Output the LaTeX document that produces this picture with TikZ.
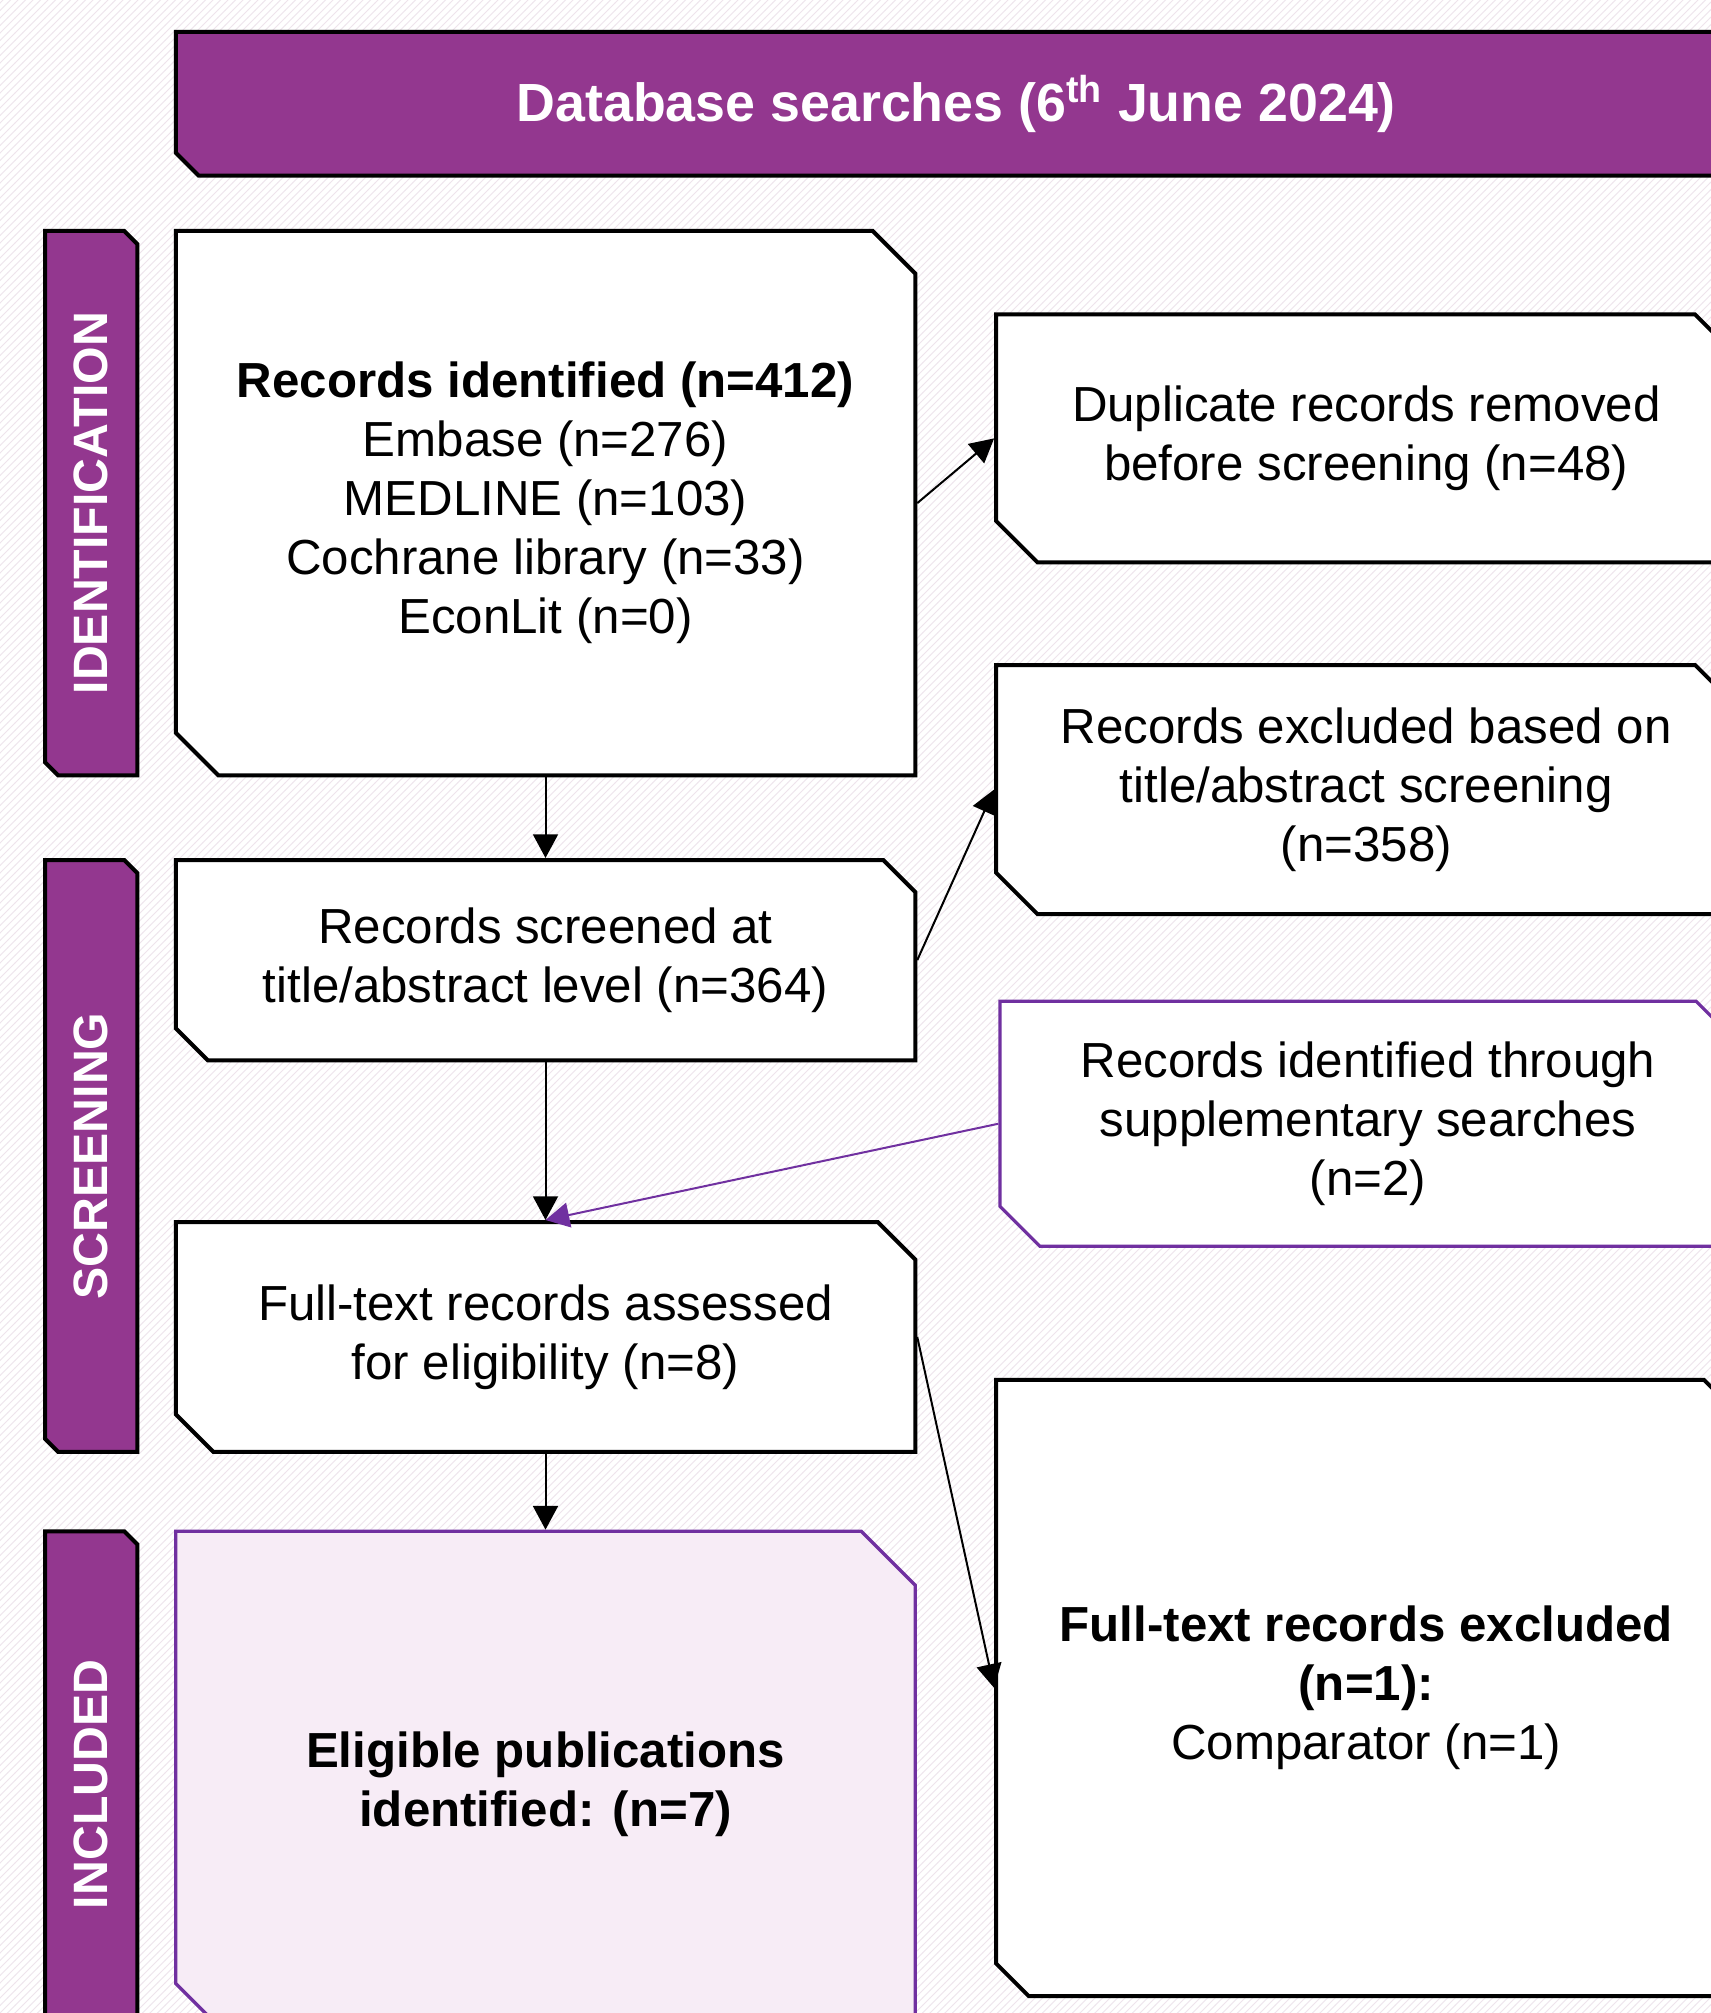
\documentclass[tikz,border=0pt]{standalone}
\usepackage{fontspec}
\setmainfont{Liberation Sans}
\usetikzlibrary{shapes.misc,arrows.meta,patterns}
\definecolor{barpurple}{RGB}{147,55,143}
\definecolor{edgepurple}{RGB}{112,48,160}
\definecolor{eligfill}{RGB}{247,236,246}
\definecolor{hatch}{RGB}{238,228,236}
\tikzset{every picture/.style={line width=0.6pt}}
\tikzset{
  bar/.style={chamfered rectangle, chamfered rectangle corners={south east,north west},
    chamfered rectangle sep=2.6pt, draw=black, line width=1.6pt, fill=barpurple,
    text=white, inner sep=0pt, font=\bfseries\fontsize{19.3}{23}\selectfont},
  box/.style={chamfered rectangle, chamfered rectangle corners={north east,south west},
    draw=black, line width=1.6pt, fill=white, align=center, inner sep=0pt,
    font=\fontsize{19.7}{23.6}\selectfont},
  pbox/.style={box, draw=edgepurple, line width=1.3pt},
  flow/.style={-{Triangle[length=9.5pt,width=10pt]}, line width=0.8pt}
}

\begin{document}
\begin{tikzpicture}[x=1pt,y=-1pt]
\path[use as bounding box] (0,0) rectangle (684.4,805.2);
\clip (0,0) rectangle (684.4,805.2);

% background
\fill[white] (0,0) rectangle (684.4,805.2);
\fill[pattern=north east lines, pattern color=hatch] (0,0) rectangle (684.4,805.2);

% Banner
\node[bar, chamfered rectangle corners={north east,south west}, chamfered rectangle sep=4.6pt,
  minimum width=624.4pt, minimum height=57.5pt,
  font=\bfseries\fontsize{21.5}{25}\selectfont] (banner) at (382.5,41.55)
  {Database searches (6\textsuperscript{th} June 2024)};

% Side bars
\node[bar, rotate=90, minimum width=217.7pt, minimum height=36.9pt] (identbar) at (36.45,201.25) {IDENTIFICATION};
\node[bar, rotate=90, minimum width=236.7pt, minimum height=36.9pt] (screenbar) at (36.45,462.35) {SCREENING};
\node[bar, rotate=90, minimum width=202.5pt, minimum height=36.9pt] (inclbar) at (36.45,713.75) {INCLUDED};

% Left column
\node[box, minimum width=295.8pt, minimum height=217.7pt, chamfered rectangle sep=8.5pt] (ident) at (218.2,201.25)
  {\textbf{Records identified (n=412)}\\Embase (n=276)\\MEDLINE (n=103)\\Cochrane library (n=33)\\EconLit (n=0)};
\node[box, minimum width=295.8pt, minimum height=80.1pt, chamfered rectangle sep=6.4pt] (screen) at (218.2,384.05)
  {Records screened at\\title/abstract level (n=364)};
\node[box, minimum width=295.8pt, minimum height=91.9pt, chamfered rectangle sep=7.5pt] (assess) at (218.2,534.75)
  {Full-text records assessed\\for eligibility (n=8)};
\node[pbox, fill=eligfill, minimum width=295.8pt, minimum height=202.5pt, chamfered rectangle sep=10.8pt] (elig) at (218.2,713.75)
  {\textbf{Eligible publications}\\\textbf{identified: (n=7)}};

% Right column
\node[box, minimum width=296.1pt, minimum height=99.1pt, chamfered rectangle sep=8.25pt] (dup) at (546.5,175.35)
  {Duplicate records removed\\before screening (n=48)};
\node[box, minimum width=296.1pt, minimum height=99.6pt, chamfered rectangle sep=8.25pt] (excl) at (546.5,315.8)
  {Records excluded based on\\title/abstract screening\\(n=358)};
\node[pbox, minimum width=294.5pt, minimum height=98pt, chamfered rectangle sep=8pt] (supp) at (547.2,449.5)
  {Records identified through\\supplementary searches\\(n=2)};
\node[box, minimum width=296.1pt, minimum height=246.5pt, chamfered rectangle sep=6.5pt] (ftex) at (546.5,675.15)
  {\textbf{Full-text records excluded}\\\textbf{(n=1):}\\Comparator (n=1)};

% Arrows
\draw[flow] (ident.east) -- (dup.west);
\draw[flow] (ident.south) -- (screen.north);
\draw[flow] (screen.east) -- (excl.west);
\draw[flow] (screen.south) -- (assess.north);
\draw[flow, edgepurple] (supp.west) -- (assess.north);
\draw[flow] (assess.east) -- (ftex.west);
\draw[flow] (assess.south) -- (elig.north);

\end{tikzpicture}
\end{document}
